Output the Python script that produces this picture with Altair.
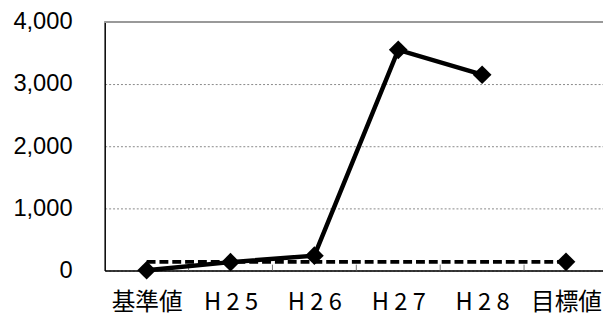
import altair as alt
import pandas as pd

categories = ["基準値", "H 2 5", "H 2 6", "H 2 7", "H 2 8", "目標値"]
actual_cats = ["基準値", "H 2 5", "H 2 6", "H 2 7", "H 2 8"]
actual_vals = [5, 135, 240, 3550, 3150]
target_cats = ["基準値", "目標値"]
target_vals = [140, 140]
point_cats = ["基準値", "H 2 5", "H 2 6", "H 2 7", "H 2 8", "目標値"]
point_vals = [5, 135, 240, 3550, 3150, 140]
y_ticks = [0, 1000, 2000, 3000, 4000]
tick_cats = ["H 2 5", "H 2 6", "H 2 7", "H 2 8", "目標値"]

W, H = 505, 252
XR = 510
STEP = XR / len(categories)

df_actual = pd.DataFrame({"cat": actual_cats, "v": actual_vals})
df_target = pd.DataFrame({"cat": target_cats, "v": target_vals})
df_points = pd.DataFrame({"cat": point_cats, "v": point_vals})
df_ticks = pd.DataFrame({"cat": tick_cats})

xscale = alt.Scale(domain=categories, range=[0, XR], type="point", padding=0.5)
yscale = alt.Scale(domain=[0, 4000])

x_axis = alt.Axis(
    title=None, labelAngle=0, labelAlign="center", labelBaseline="top",
    ticks=False, domainColor="black", domainWidth=1.5,
    labelFont="Noto Sans CJK JP", labelFontSize=24, labelColor="black",
    labelPadding=20, grid=False,
)
y_axis = alt.Axis(
    title=None, values=y_ticks, format=",.0f", ticks=False, domainColor="black",
    domainWidth=1.5, labelFont="Liberation Sans", labelFontSize=24,
    labelColor="black", labelPadding=33, grid=True, gridColor="#888888",
    gridDash=[2, 2], gridWidth=1,
)

X = alt.X("cat:N", scale=xscale, axis=x_axis, sort=categories)
Y = alt.Y("v:Q", scale=yscale, axis=y_axis)

top_border = alt.Chart(df_ticks).mark_rule(color="#999999", strokeWidth=2).encode(
    x=alt.value(0), x2=alt.value(XR), y=alt.value(0)
)

xticks = alt.Chart(df_ticks).mark_rule(
    color="#777777", strokeWidth=1, xOffset=-STEP / 2
).encode(
    x=X,
    y=alt.value(H - 6), y2=alt.value(H),
)

target_line = alt.Chart(df_target).mark_line(
    color="black", strokeWidth=4, strokeDash=[9, 4]
).encode(x=X, y=Y)

actual_line = alt.Chart(df_actual).mark_line(
    color="black", strokeWidth=4.5
).encode(x=X, y=Y)

points = alt.Chart(df_points).mark_point(
    shape="diamond", filled=True, color="black", size=360, opacity=1
).encode(x=X, y=Y)

chart = alt.layer(top_border, xticks, target_line, actual_line, points).properties(
    width=W, height=H,
    autosize=alt.AutoSizeParams(type="none"),
    padding={"left": 98, "top": 12, "right": 0, "bottom": 46},
).configure_view(stroke=None).configure(background="white")

chart.save("out.html", embed_options={"renderer": "svg", "actions": False})
